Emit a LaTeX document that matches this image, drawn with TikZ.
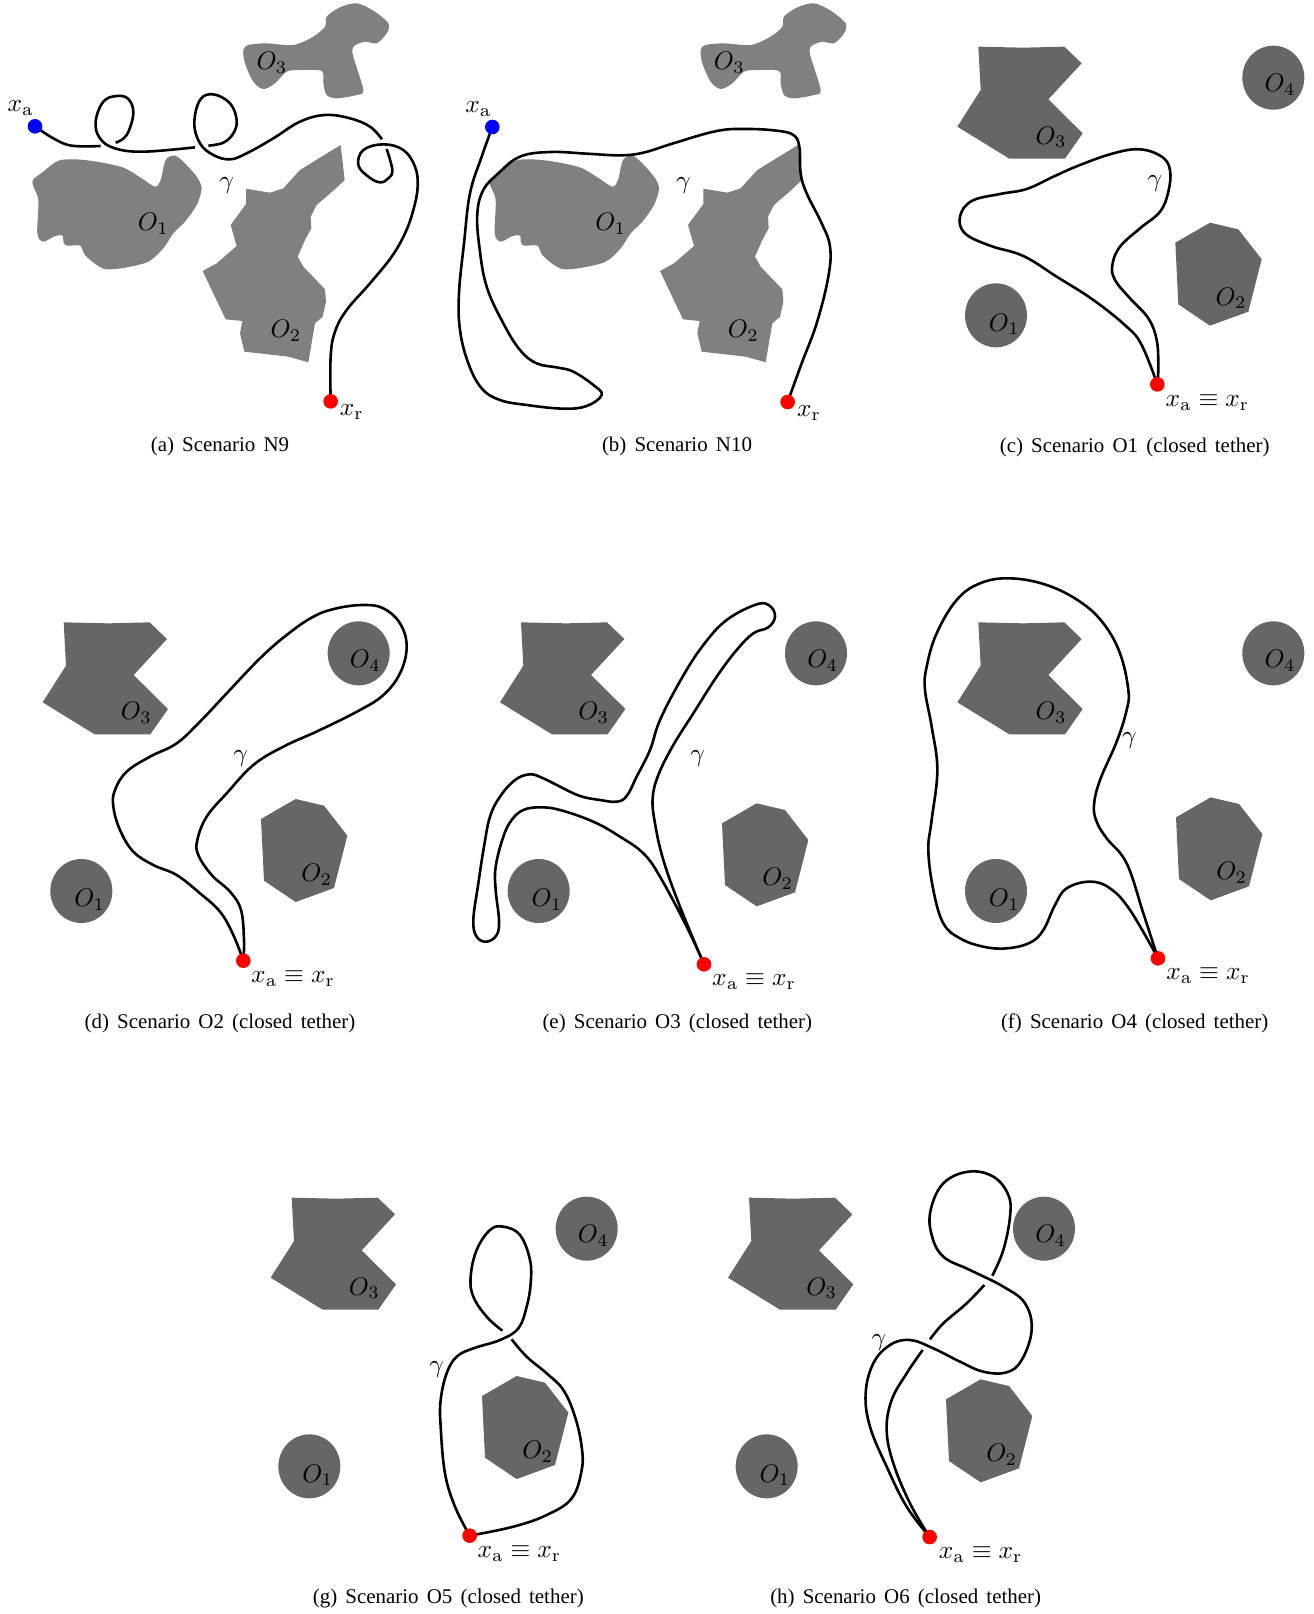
\documentclass[tikz,border=0pt]{standalone}
\usepackage[no-math]{fontspec}
\setmainfont{Liberation Serif}
\definecolor{gA}{HTML}{808080}
\definecolor{gB}{HTML}{666666}
\def\tens{0.65}
\tikzset{
  tether/.style={line width=2.6bp,black,line join=round},
  lab/.style={scale=2.55,inner sep=0pt},
  caplab/.style={scale=2.1,inner sep=0pt,font={\spaceskip=3.9pt\relax}},
  reddot/.style={circle,fill=red,inner sep=0pt,minimum size=14.6bp},
  bluedot/.style={circle,fill=blue,inner sep=0pt,minimum size=14.6bp},
  blob/.style={fill=gA,draw=none},
  poly/.style={fill=gB,draw=none},
}
% panels a,b: blob obstacles, #1 = name prefix, #2 = shift
\newcommand\blobobstacles[2]{%
\begin{scope}[shift={#2}]
\fill[blob] plot[smooth cycle,tension=0.5] coordinates {(97,545)(130,515)(175,482)(225,478)(290,485)(370,503)(425,535)(465,560)(482,540)(497,480)(525,467)(555,490)(590,530)(605,565)(590,615)(555,665)(520,700)(490,745)(445,785)(375,803)(320,808)(290,795)(255,765)(240,737)(200,737)(190,725)(188,707)(165,708)(130,725)(112,700)(115,600)};
\fill[blob] (1022,435)--(1034,540)--(1000,572)--(950,615)--(932,650)--(934,685)--(915,720)--(893,770)--(910,800)--(975,868)--(978,905)--(968,950)--(945,970)--(938,1010)--(925,1087)--(865,1070)--(733,1055)--(720,1000)--(727,963)--(677,958)--(608,813)--(650,790)--(710,738)--(692,675)--(738,612)--(738,566)--(810,578)--(850,565)--(900,510)--cycle;
\fill[blob] plot[smooth cycle,tension=0.5] coordinates {(730,150)(745,135)(800,130)(880,135)(940,110)(975,80)(980,50)(1020,22)(1070,10)(1120,32)(1165,70)(1160,100)(1130,130)(1095,125)(1060,140)(1060,170)(1090,270)(1070,285)(1010,295)(980,285)(970,250)(965,213)(900,210)(860,215)(825,250)(790,267)(760,245)(735,190)};
\node[lab] (#1O1) at (460,672) {$O_1$};
\node[lab] (#1O2) at (858,993) {$O_2$};
\node[lab] (#1O3) at (816,188) {$O_3$};
\end{scope}}
% panels c-h, each obstacle shifted separately
\newcommand\polyobstacles[3]{%
\begin{scope}[shift={#2}]
\fill[poly] (235,80)--(370,83)--(493,80)--(545,130)--(445,238)--(548,340)--(495,416)--(328,416)--(172,320)--(242,210)--cycle;
\fill[poly] (1120,173) ellipse [x radius=93,y radius=96];
\fill[poly] (288,886) ellipse [x radius=93,y radius=96];
\node[lab] (#1O3) at (453,352) {$O_3$};
\node[lab] (#1O4) at (1140,195) {$O_4$};
\node[lab] (#1O1) at (313,913) {$O_1$};
\end{scope}
\begin{scope}[shift={#3}]
\fill[poly] (826,668)--(930,608)--(1015,628)--(1085,718)--(1045,875)--(930,917)--(835,853)--cycle;
\node[lab] (#1O2) at (993,835) {$O_2$};
\end{scope}}
\newcommand\closedlabel[2]{\node[lab] (#1) at #2 {$x_{\mathrm{a}}\equiv x_{\mathrm{r}}$};}
\begin{document}
\begin{tikzpicture}[x=0.33333bp,y=-0.33333bp]
\useasboundingbox (0,0) rectangle (3942,4842);
% ---------- (a)
\blobobstacles{a}{(0,0)}
\coordinate (aS) at (105,379);
\coordinate (aE) at (992,1204);
\draw[tether] plot[smooth,tension=\tens] coordinates {(aS)(160,415)(215,437)(302,438)};
\draw[tether] plot[smooth,tension=\tens] coordinates {(347,428)(380,405)(400,340)(385,297)(350,288)(310,305)(287,365)(300,415)(345,445)(430,455)(585,442)};
\draw[tether] plot[smooth,tension=\tens] coordinates {(625,437)(670,428)(700,400)(710,360)(690,310)(640,283)(600,300)(583,370)(600,430)(640,465)(690,478)(740,460)(820,415)(900,365)(975,345)(1050,355)(1110,380)(1146,418)};
\draw[tether] plot[smooth,tension=\tens] coordinates {(1160,447)(1177,510)(1165,535)(1140,547)(1105,530)(1075,495)(1090,450)(1150,433)(1210,450)(1245,500)(1253,560)(1240,630)(1215,700)(1175,770)(1110,850)(1040,930)(1005,995)(992,1070)(aE)};
\node[bluedot] (aA) at (aS) {};
\node[reddot] (aR) at (aE) {};
\node[lab] (aLa) at (62,325) {$x_{\mathrm{a}}$};
\node[lab] (aLr) at (1055,1237) {$x_{\mathrm{r}}$};
\node[lab] (aG) at (680,557) {$\gamma$};
\node[caplab] (aC) at (660,1340) {(a) Scenario N9};
% ---------- (b)
\blobobstacles{b}{(1372,0)}
\begin{scope}[shift={(1320,0)}]
\coordinate (bS) at (157,381);
\coordinate (bE) at (1043,1206);
\draw[tether] plot[smooth,tension=\tens] coordinates {(bS)(125,470)(90,580)(72,730)(57,880)(60,990)(85,1090)(125,1165)(180,1200)(260,1215)(370,1226)(440,1218)(485,1185)(460,1155)(400,1115)(355,1103)(290,1090)(240,1050)(190,970)(140,860)(118,740)(112,640)(130,570)(175,520)(240,470)(330,456)(440,461)(540,466)(610,458)(700,430)(830,393)(920,387)(1010,392)(1060,405)(1078,440)(1082,520)(1100,580)(1145,670)(1170,740)(1165,830)(1130,970)(1085,1090)(bE)};
\node[bluedot] (bA) at (bS) {};
\node[reddot] (bR) at (bE) {};
\node[lab] (bLa) at (115,328) {$x_{\mathrm{a}}$};
\node[lab] (bLr) at (1107,1239) {$x_{\mathrm{r}}$};
\node[lab] (bG) at (730,557) {$\gamma$};
\node[caplab] (bC) at (711,1340) {(b) Scenario N10};
\end{scope}
% ---------- (c)
\polyobstacles{c}{(2700,60)}{(2700,60)}
\begin{scope}[shift={(2700,60)}]
\coordinate (cS) at (772,1093);
\draw[tether] plot[smooth,tension=\tens] coordinates {(cS)(775,1040)(770,960)(745,895)(690,835)(645,780)(637,735)(660,680)(720,625)(780,575)(805,515)(810,450)(785,410)(720,388)(640,400)(540,435)(460,470)(380,507)(300,522)(215,543)(180,590)(195,640)(270,677)(370,708)(470,770)(580,840)(680,920)(725,975)(cS)};
\node[reddot] (cR) at (cS) {};
\closedlabel{cL}{(922,1147)}
\node[lab] (cG) at (765,490) {$\gamma$};
\node[caplab] (cC) at (704,1281) {(c) Scenario O1 (closed tether)};
\end{scope}
% ---------- (d)
\polyobstacles{d}{(-44,1787)}{(-43,1789)}
\begin{scope}[shift={(60,1770)}]
\coordinate (dS) at (670,1112);
\draw[tether] plot[smooth,tension=\tens] coordinates {(dS)(672,1050)(663,960)(630,905)(575,855)(535,795)(532,750)(560,680)(620,610)(700,525)(790,470)(900,420)(1020,360)(1090,315)(1140,250)(1160,170)(1140,100)(1090,55)(1030,45)(950,55)(880,80)(800,135)(720,205)(620,310)(540,395)(470,460)(390,500)(320,545)(285,600)(280,650)(300,720)(340,785)(400,825)(470,855)(540,910)(600,965)(640,1035)(dS)};
\node[reddot] (dR) at (dS) {};
\closedlabel{dL}{(819,1165)}
\node[lab] (dG) at (662,505) {$\gamma$};
\node[caplab] (dC) at (600,1300) {(d) Scenario O2 (closed tether)};
\end{scope}
% ---------- (e)
\polyobstacles{e}{(1328,1787)}{(1340,1802)}
\begin{scope}[shift={(1380,1770)}]
\coordinate (eS) at (732,1123);
\draw[tether] plot[smooth,tension=\tens] coordinates {(eS)(660,950)(610,810)(585,700)(578,625)(595,555)(640,465)(700,370)(770,260)(830,180)(880,130)(925,112)(945,80)(930,48)(890,43)(800,90)(730,165)(665,265)(600,390)(570,480)(530,560)(500,618)(470,635)(420,630)(360,618)(300,590)(250,565)(210,553)(165,570)(120,620)(90,680)(72,770)(55,880)(40,990)(50,1040)(80,1055)(110,1035)(117,990)(107,900)(107,830)(130,740)(155,690)(190,660)(240,652)(300,660)(400,695)(480,740)(550,790)(600,860)(680,1010)(eS)};
\node[reddot] (eR) at (eS) {};
\closedlabel{eL}{(882,1174)}
\node[lab] (eG) at (713,505) {$\gamma$};
\node[caplab] (eC) at (652,1300) {(e) Scenario O3 (closed tether)};
\end{scope}
% ---------- (f)
\polyobstacles{f}{(2700,1787)}{(2702,1784)}
\begin{scope}[shift={(2700,1680)}]
\coordinate (fS) at (774,1195);
\draw[tether] plot[smooth,tension=\tens] coordinates {(fS)(730,1060)(680,910)(620,835)(590,785)(582,735)(600,660)(650,545)(680,450)(685,390)(660,280)(610,190)(540,125)(440,75)(330,55)(240,70)(170,120)(110,220)(80,320)(75,390)(95,500)(112,630)(95,780)(85,870)(100,990)(130,1090)(180,1135)(250,1160)(320,1165)(390,1148)(430,1110)(465,1035)(500,985)(570,965)(630,985)(690,1050)(fS)};
\node[reddot] (fR) at (fS) {};
\closedlabel{fL}{(924,1247)}
\node[lab] (fG) at (688,542) {$\gamma$};
\node[caplab] (fC) at (704,1390) {(f) Scenario O4 (closed tether)};
\end{scope}
% ---------- (g)
\polyobstacles{g}{(640,3513)}{(620,3520)}
\begin{scope}[shift={(780,3480)}]
\coordinate (gS) at (629,1127);
\draw[tether] plot[smooth,tension=\tens] coordinates {(727,512)(680,470)(640,410)(632,350)(650,270)(690,210)(730,200)(780,225)(810,300)(812,370)(800,440)(775,505)(720,540)(640,565)(590,590)(560,640)(542,720)(542,800)(555,940)(585,1040)(gS)};
\draw[tether] plot[smooth,tension=\tens] coordinates {(755,538)(800,590)(860,640)(910,690)(945,770)(965,860)(965,930)(935,1015)(860,1065)(760,1100)(gS)};
\node[reddot] (gR) at (gS) {};
\closedlabel{gL}{(778,1180)}
\node[lab] (gG) at (530,627) {$\gamma$};
\node[caplab] (gC) at (565,1315) {(g) Scenario O5 (closed tether)};
\end{scope}
% ---------- (h)
\polyobstacles{h}{(2012,3513)}{(2012,3530)}
\begin{scope}[shift={(2160,3480)}]
\coordinate (hS) at (629,1131);
\draw[tether] plot[smooth,tension=\tens] coordinates {(hS)(560,1040)(500,920)(450,800)(437,700)(460,610)(510,555)(570,540)(640,565)(720,605)(790,635)(860,637)(905,600)(935,510)(915,430)(850,380)(750,330)(670,290)(635,225)(632,150)(670,70)(745,35)(820,50)(865,105)(870,170)(850,270)(817,347)};
\draw[tether] plot[smooth,tension=\tens] coordinates {(793,375)(740,430)(670,490)(630,538)};
\draw[tether] plot[smooth,tension=\tens] coordinates {(608,570)(560,640)(515,720)(500,810)(520,910)(570,1030)(hS)};
\node[reddot] (hR) at (hS) {};
\closedlabel{hL}{(782,1184)}
\node[lab] (hG) at (477,547) {$\gamma$};
\node[caplab] (hC) at (557,1315) {(h) Scenario O6 (closed tether)};
\end{scope}
\end{tikzpicture}
\end{document}
